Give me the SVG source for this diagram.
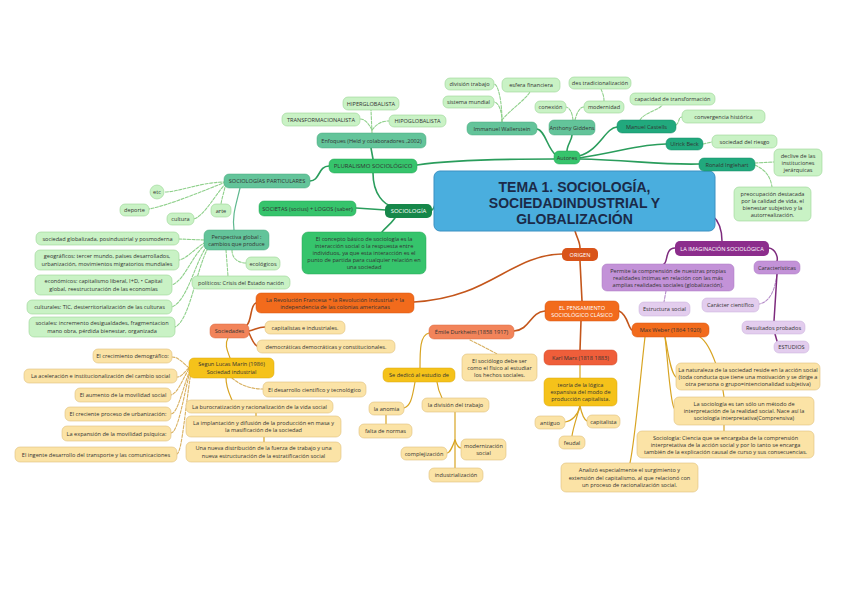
<svg xmlns="http://www.w3.org/2000/svg" width="848" height="599" viewBox="0 0 848 599">
<style>
text{font-family:"Open Sans","Liberation Sans",sans-serif;font-size:5.6px;fill:#333;text-anchor:middle}
.t{font-family:"Liberation Sans",Arial,sans-serif;font-size:14px;font-weight:bold;fill:#1b2a48}
.w{fill:#fff}
.b{font-size:6px}
.lg{fill:#c9f2c5;stroke:#9ad596;stroke-width:.6}
.tm{fill:#63c49a;stroke:#4aa87f;stroke-width:.5}
.dt{fill:#21a97d;stroke:#178b66;stroke-width:.5}
.g{fill:#36c46c;stroke:#26a457;stroke-width:.5}
.dg{fill:#16874a}
.ly{fill:#fbe3a6;stroke:#dfc07c;stroke-width:.6}
.y{fill:#f5c21a;stroke:#d9a60d;stroke-width:.5}
.o{fill:#f26b1c;stroke:#d65510;stroke-width:.5}
.od{fill:#d9541a}
.os{fill:#f2845a;stroke:#d96a40;stroke-width:.5}
.or{fill:#ef5e3a;stroke:#d24a28;stroke-width:.5}
.p{fill:#8c2d8c}
.pm{fill:#c392d8;stroke:#a877c0;stroke-width:.5}
.pl{fill:#e3cdee;stroke:#c7aedb;stroke-width:.5}
.ttl{fill:#4aaede;stroke:#3a90c2;stroke-width:1}
#edges path{fill:none;stroke-linecap:round}
.eg{stroke:#2a9d5c;stroke-width:1.6}
.el{stroke:#8fd08b;stroke-width:1.1;stroke-dasharray:3 1.5}
.et{stroke:#5fb88f;stroke-width:1.2}
.ep{stroke:#7d2b7d;stroke-width:1.5}
.epd{stroke:#b48bc8;stroke-width:1.1;stroke-dasharray:3 1.5}
.eo{stroke:#c4561b;stroke-width:1.6}
.ey{stroke:#d8a422;stroke-width:1.2}
.eyd{stroke:#d8b060;stroke-width:1.1;stroke-dasharray:3 1.5}
</style>
<rect width="848" height="599" fill="#fff"/>
<g id="edges">
<path class="eg" d="M554,159 C500,159 450,160 417,165"/>
<path class="eg" d="M556,155 C548,150 545,130 537,129"/>
<path class="eg" d="M567,151 C567,145 572,140 572,135"/>
<path class="eg" d="M579,156 C600,150 605,128 617,127"/>
<path class="eg" d="M579,158 C620,152 640,144 666,144"/>
<path class="eg" d="M579,159 C630,160 660,165 699,164"/>
<path class="eg" d="M371,148 L373,159"/>
<path class="eg" d="M329,166 C318,166 320,181 310,181"/>
<path class="eg" d="M373,173 C373,195 385,205 392,206"/>
<path class="eg" d="M386,210 L356,208"/>
<path class="eg" d="M395,218 C390,225 385,228 382,232"/>
<path class="eg" d="M432,210 C435,208 434,205 436,203"/>
<path class="el" d="M372,133 L371,110"/>
<path class="el" d="M372,130 C368,122 364,119 360,119"/>
<path class="el" d="M372,130 C378,122 384,121 389,121"/>
<path class="el" d="M502,122 C502,100 498,84 494,84"/>
<path class="el" d="M502,122 C502,110 498,102 494,102"/>
<path class="el" d="M502,120 C510,110 525,100 530,92"/>
<path class="el" d="M573,120 C572,112 570,108 566,107"/>
<path class="el" d="M575,120 C577,112 580,107 584,107"/>
<path class="el" d="M604,101 C604,95 602,92 601,89"/>
<path class="el" d="M640,120 C645,112 660,110 662,105"/>
<path class="el" d="M676,125 C680,122 678,117 682,117"/>
<path class="el" d="M703,144 L712,142"/>
<path class="el" d="M755,163 L774,162"/>
<path class="el" d="M755,165 C765,170 770,175 772,187"/>
<path class="el" d="M226,182 C200,182 180,192 164,192"/>
<path class="el" d="M226,182 C205,190 170,205 149,209"/>
<path class="el" d="M226,183 C215,195 205,215 194,219"/>
<path class="el" d="M226,183 C224,192 222,198 221,204"/>
<path class="et" d="M240,188 C236,205 232,215 234,230"/>
<path class="el" d="M204,240 L179,239"/>
<path class="el" d="M206,242 C195,248 188,258 179,260"/>
<path class="el" d="M206,244 C192,255 185,280 172,285"/>
<path class="el" d="M207,246 C195,262 188,300 172,307"/>
<path class="el" d="M208,248 C196,270 190,320 175,327"/>
<path class="el" d="M232,250 C232,260 240,263 246,263"/>
<path class="el" d="M226,250 L228,276"/>
<path class="ep" d="M712,215 C720,222 722,232 722,241"/>
<path class="ep" d="M675,248 C665,248 668,262 664,264"/>
<path class="ep" d="M769,248 C776,249 778,258 777,261"/>
<path class="epd" d="M666,291 L664,302"/>
<path class="epd" d="M777,274 C775,290 770,302 759,304"/>
<path class="ep" d="M777,274 L774,321"/>
<path class="ep" d="M775,334 L777,341"/>
<path class="eo" d="M575,231 C577,238 580,242 580,248"/>
<path class="eo" d="M562,254 C510,255 490,298 414,302"/>
<path class="eo" d="M580,261 L582,301"/>
<path class="eo" d="M545,311 C530,312 530,330 514,331"/>
<path class="eo" d="M581,321 L580,350"/>
<path class="eo" d="M619,311 C628,315 628,328 632,330"/>
<path class="eo" d="M256,303 C250,305 252,320 247,325"/>
<path class="eo" d="M249,331 C255,330 258,327 265,327"/>
<path class="eo" d="M249,333 C252,340 254,345 257,346"/>
<path class="ey" d="M228,338 C224,345 228,352 230,358"/>
<path class="ey" d="M429,333 C420,335 420,350 420,368"/>
<path class="eyd" d="M470,340 C480,345 490,350 497,354"/>
<path class="ey" d="M415,382 C412,400 410,406 404,408"/>
<path class="ey" d="M386,415 L386,424"/>
<path class="ey" d="M437,382 C438,390 440,394 442,398"/>
<path class="ey" d="M455,412 L455,468"/>
<path class="ey" d="M455,440 C452,448 450,453 447,453"/>
<path class="ey" d="M455,440 C457,446 459,448 461,448"/>
<path class="ey" d="M580,365 L580,378"/>
<path class="ey" d="M580,406 C578,415 572,421 565,422"/>
<path class="ey" d="M580,406 C582,415 585,420 587,421"/>
<path class="ey" d="M580,406 C576,420 573,428 572,436"/>
<path class="ey" d="M665,337 C668,350 670,372 676,377"/>
<path class="ey" d="M665,337 C668,362 670,400 674,408"/>
<path class="ey" d="M700,337 C712,345 722,380 724,397"/>
<path class="ey" d="M724,425 L724,431"/>
<path class="ey" d="M645,337 C640,380 635,440 630,463"/>
<path class="eyd" d="M189,368 C182,362 178,357 172,357"/>
<path class="eyd" d="M189,368 C184,372 182,377 177,377"/>
<path class="eyd" d="M189,369 C182,380 178,393 171,395"/>
<path class="eyd" d="M190,370 C182,390 178,413 171,414"/>
<path class="eyd" d="M190,371 C183,400 178,432 171,433"/>
<path class="eyd" d="M191,372 C185,410 182,452 177,454"/>
<path class="eyd" d="M232,378 C240,385 250,389 263,389"/>
<path class="ey" d="M226,378 C226,388 230,395 232,400"/>
<path class="ey" d="M256,413 L256,416"/>
<path class="ey" d="M264,437 L264,442"/>
</g>
<g id="title"><rect class="ttl" x="434" y="171" width="281" height="60" rx="6"/><text class="t" x="574.5" y="192">TEMA 1. SOCIOLOGÍA,</text><text class="t" x="574.5" y="208">SOCIEDADINDUSTRIAL Y</text><text class="t" x="574.5" y="224">GLOBALIZACIÓN</text></g>
<g id="autores"><rect class="g" x="554" y="151" width="26" height="13" rx="5"/><text x="567" y="159.5">Autores</text></g>
<g id="pluralismo"><rect class="g" x="329" y="159" width="88" height="14" rx="5"/><text class="b" x="373" y="168">PLURALISMO SOCIOLÓGICO</text></g>
<g id="sociologia"><rect class="dg" x="385" y="204" width="47" height="14" rx="5"/><text class="w b" x="408.5" y="213">SOCIOLOGÍA</text></g>
<g id="societas"><rect class="g" x="259" y="201" width="97" height="15" rx="5"/><text x="307.5" y="210.5">SOCIETAS (socius) + LOGOS (saber)</text></g>
<g id="concepto"><rect class="g" x="302" y="232" width="124" height="42" rx="6"/><text x="364" y="241">El concepto básico de sociología es la</text><text x="364" y="248">interacción social o la respuesta entre</text><text x="364" y="255">individuos, ya que esta interacción es el</text><text x="364" y="262">punto de partida para cualquier relación en</text><text x="364" y="269">una sociedad</text></g>
<g id="enfoques"><rect class="tm" x="317" y="133" width="109" height="15" rx="5"/><text x="371.5" y="142.5">Enfoques (Held y colaboradores ,2002)</text></g>
<g id="hiper"><rect class="lg" x="343" y="97" width="56" height="13" rx="5"/><text x="371" y="105.5">HIPERGLOBALISTA</text></g>
<g id="transf"><rect class="lg" x="282" y="113" width="78" height="13" rx="5"/><text x="321" y="121.5">TRANSFORMACIONALISTA</text></g>
<g id="hipo"><rect class="lg" x="389" y="115" width="57" height="12" rx="5"/><text x="417.5" y="123">HIPOGLOBALISTA</text></g>
<g id="sociopart"><rect class="tm" x="224" y="174" width="86" height="14" rx="5"/><text x="267" y="183">SOCIOLOGÍAS PARTICULARES</text></g>
<g id="etc"><circle class="lg" cx="157" cy="192" r="7"/><text x="157" y="194">etc</text></g>
<g id="deporte"><rect class="lg" x="120" y="204" width="29" height="12" rx="5"/><text x="134.5" y="212">deporte</text></g>
<g id="cultura"><rect class="lg" x="167" y="213" width="27" height="12" rx="5"/><text x="180.5" y="221">cultura</text></g>
<g id="arte"><rect class="lg" x="211" y="204" width="20" height="13" rx="5"/><text x="221" y="212.5">arte</text></g>
<g id="perspectiva"><rect class="tm" x="204" y="230" width="65" height="20" rx="5"/><text x="236.5" y="238.5">Perspectiva global :</text><text x="236.5" y="245.5">cambios que produce</text></g>
<g id="ecologicos"><rect class="lg" x="246" y="257" width="34" height="13" rx="5"/><text x="263" y="265.5">ecológicos</text></g>
<g id="politicos"><rect class="lg" x="192" y="276" width="98" height="13" rx="5"/><text x="241" y="284.5">políticos: Crisis del Estado nación</text></g>
<g id="socglob"><rect class="lg" x="36" y="232" width="143" height="13" rx="5"/><text x="107.5" y="240.5">sociedad globalizada, posindustrial y posmoderna</text></g>
<g id="geog"><rect class="lg" x="35" y="250" width="144" height="20" rx="5"/><text x="107" y="258">geográficos: tercer mundo, países desarrollados,</text><text x="107" y="265.5">urbanización, movimientos migratorios mundiales</text></g>
<g id="econ"><rect class="lg" x="35" y="275" width="137" height="20" rx="5"/><text x="103.5" y="283">económicos: capitalismo liberal, I+D, • Capital</text><text x="103.5" y="290.5">global, reestructuración de las economías</text></g>
<g id="cult"><rect class="lg" x="27" y="300" width="145" height="14" rx="5"/><text x="99.5" y="309">culturales: TIC, desterritorialización de las culturas</text></g>
<g id="soc"><rect class="lg" x="29" y="317" width="146" height="20" rx="5"/><text x="102" y="325">sociales: incremento desigualdades, fragmentacion</text><text x="102" y="332.5">mano obra, pérdida bienestar, organizada</text></g>
<g id="wallerstein"><rect class="tm" x="467" y="122" width="70" height="13" rx="5"/><text x="502" y="130.5">Immanuel Wallerstein</text></g>
<g id="division"><rect class="lg" x="445" y="78" width="49" height="12" rx="5"/><text x="469.5" y="86">división trabajo</text></g>
<g id="sistema"><rect class="lg" x="443" y="96" width="51" height="12" rx="5"/><text x="468.5" y="104">sistema mundial</text></g>
<g id="esfera"><rect class="lg" x="502" y="78" width="58" height="14" rx="5"/><text x="531" y="87">esfera financiera</text></g>
<g id="giddens"><rect class="tm" x="549" y="120" width="46" height="15" rx="5"/><text x="572" y="129.5">Anthony Giddens</text></g>
<g id="conexion"><rect class="lg" x="535" y="101" width="31" height="12" rx="5"/><text x="550.5" y="109">conexión</text></g>
<g id="modernidad"><rect class="lg" x="584" y="101" width="40" height="12" rx="5"/><text x="604" y="109">modernidad</text></g>
<g id="destrad"><rect class="lg" x="569" y="77" width="62" height="12" rx="5"/><text x="600" y="85">des tradicionalización</text></g>
<g id="castells"><rect class="dt" x="617" y="120" width="59" height="13" rx="5"/><text x="646.5" y="128.5">Manuel Castells</text></g>
<g id="capacidad"><rect class="lg" x="630" y="93" width="85" height="12" rx="5"/><text x="672.5" y="101">capacidad de transformación</text></g>
<g id="convergencia"><rect class="lg" x="682" y="110" width="83" height="13" rx="5"/><text x="723.5" y="118.5">convergencia histórica</text></g>
<g id="beck"><rect class="dt" x="666" y="138" width="37" height="12" rx="5"/><text x="684.5" y="146">Ulrick Beck</text></g>
<g id="riesgo"><rect class="lg" x="712" y="135" width="65" height="13" rx="5"/><text x="744.5" y="143.5">sociedad del riesgo</text></g>
<g id="inglehart"><rect class="dt" x="699" y="158" width="56" height="13" rx="5"/><text x="727" y="166.5">Ronald Inglehart</text></g>
<g id="declive"><rect class="lg" x="774" y="149" width="48" height="27" rx="5"/><text x="798" y="157.5">declive de las</text><text x="798" y="164.5">instituciones</text><text x="798" y="171.5">jerárquicas</text></g>
<g id="preocupacion"><rect class="lg" x="734" y="187" width="77" height="34" rx="5"/><text x="772.5" y="195.5">preocupación destacada</text><text x="772.5" y="202.5">por la calidad de vida, el</text><text x="772.5" y="209.5">bienestar subjetivo y la</text><text x="772.5" y="216.5">autorrealización.</text></g>
<g id="imaginacion"><rect class="p" x="675" y="241" width="94" height="15" rx="5"/><text class="w" x="722" y="250.5">LA IMAGINACIÓN SOCIOLÓGICA</text></g>
<g id="permite"><rect class="pm" x="602" y="264" width="132" height="27" rx="5"/><text x="668" y="273">Permite la comprensión de nuestras propias</text><text x="668" y="280">realidades íntimas en relación con las más</text><text x="668" y="287">amplias realidades sociales (globalización).</text></g>
<g id="caracteristicas"><rect class="pm" x="754" y="261" width="46" height="13" rx="5"/><text x="777" y="269.5">Características</text></g>
<g id="estructura"><rect class="pl" x="639" y="302" width="51" height="14" rx="5"/><text x="664.5" y="311">Estructura social</text></g>
<g id="caracter"><rect class="pl" x="702" y="298" width="57" height="14" rx="5"/><text x="730.5" y="307">Carácter científico</text></g>
<g id="resultados"><rect class="pl" x="742" y="321" width="63" height="13" rx="5"/><text x="773.5" y="329.5">Resultados probados</text></g>
<g id="estudios"><rect class="pl" x="774" y="341" width="35" height="12" rx="5"/><text x="791.5" y="349">ESTUDIOS</text></g>
<g id="origen"><rect class="od" x="562" y="248" width="36" height="13" rx="5"/><text class="w" x="580" y="256.5">ORIGEN</text></g>
<g id="pensamiento"><rect class="o" x="545" y="301" width="74" height="20" rx="5"/><text class="w" x="582" y="309.5">EL PENSAMIENTO</text><text class="w" x="582" y="316.5">SOCIOLÓGICO CLÁSICO</text></g>
<g id="revolucion"><rect class="o" x="256" y="293" width="158" height="20" rx="5"/><text x="335" y="301.5">La Revolución Francesa + la Revolución Industrial + la</text><text x="335" y="309">independencia de las colonias americanas</text></g>
<g id="sociedades"><rect class="os" x="210" y="324" width="39" height="14" rx="5"/><text x="229.5" y="333">Sociedades</text></g>
<g id="capitalistas"><rect class="ly" x="265" y="321" width="80" height="13" rx="5"/><text x="305" y="329.5">capitalistas e industriales.</text></g>
<g id="democraticas"><rect class="ly" x="257" y="340" width="138" height="13" rx="5"/><text x="326" y="348.5">democráticas democráticas y constitucionales.</text></g>
<g id="durkheim"><rect class="os" x="429" y="325" width="85" height="14" rx="5"/><text x="471.5" y="334">Émile Durkheim (1858 1917)</text></g>
<g id="marx"><rect class="or" x="544" y="350" width="73" height="15" rx="5"/><text x="580.5" y="359.5">Karl Marx (1818 1883)</text></g>
<g id="weber"><rect class="o" x="632" y="323" width="77" height="14" rx="5"/><text x="670.5" y="332">Max Weber (1864 1920)</text></g>
<g id="lucas"><rect class="y" x="189" y="358" width="85" height="20" rx="5"/><text x="231.5" y="366">Segun Lucas Marín (1986)</text><text x="231.5" y="373.5">Sociedad industrial</text></g>
<g id="sededico"><rect class="y" x="383" y="368" width="72" height="14" rx="5"/><text x="419" y="377">Se dedicó al estudio de</text></g>
<g id="sociologo"><rect class="ly" x="462" y="354" width="75" height="27" rx="5"/><text x="499.5" y="362.5">El sociólogo debe ser</text><text x="499.5" y="369.5">como el físico al estudiar</text><text x="499.5" y="376.5">los hechos sociales.</text></g>
<g id="teoria"><rect class="y" x="544" y="378" width="73" height="28" rx="5"/><text x="580.5" y="387">teoría de la lógica</text><text x="580.5" y="394">expansiva del modo de</text><text x="580.5" y="401">producción capitalista.</text></g>
<g id="antiguo"><rect class="ly" x="535" y="416" width="30" height="13" rx="5"/><text x="550" y="424.5">antiguo</text></g>
<g id="capitalista"><rect class="ly" x="587" y="415" width="33" height="13" rx="5"/><text x="603.5" y="423.5">capitalista</text></g>
<g id="feudal"><rect class="ly" x="559" y="436" width="26" height="13" rx="5"/><text x="572" y="444.5">feudal</text></g>
<g id="anomia"><rect class="ly" x="369" y="402" width="35" height="13" rx="5"/><text x="386.5" y="410.5">la anomia</text></g>
<g id="falta"><rect class="ly" x="359" y="424" width="53" height="14" rx="5"/><text x="385.5" y="433">falta de normas</text></g>
<g id="divtrabajo"><rect class="ly" x="422" y="398" width="67" height="14" rx="5"/><text x="455.5" y="407">la división del trabajo</text></g>
<g id="complej"><rect class="ly" x="401" y="447" width="46" height="13" rx="5"/><text x="424" y="455.5">complejización</text></g>
<g id="moderniz"><rect class="ly" x="461" y="439" width="45" height="21" rx="5"/><text x="483.5" y="447.5">modernización</text><text x="483.5" y="455">social</text></g>
<g id="industri"><rect class="ly" x="429" y="468" width="54" height="14" rx="5"/><text x="456" y="477">industrialización</text></g>
<g id="analizo"><rect class="ly" x="561" y="463" width="137" height="29" rx="5"/><text x="629.5" y="472">Analizó especialmente el surgimiento y</text><text x="629.5" y="479.5">extensión del capitalismo, al que relacionó con</text><text x="629.5" y="487">un proceso de racionalización social.</text></g>
<g id="naturaleza"><rect class="ly" x="676" y="363" width="144" height="27" rx="5"/><text x="748" y="372">La naturaleza de la sociedad reside en la acción social</text><text x="748" y="379">(toda conducta que tiene una motivación y se dirige a</text><text x="748" y="386">otra persona o grupo=intencionalidad subjetiva)</text></g>
<g id="lasociologia"><rect class="ly" x="674" y="397" width="140" height="28" rx="5"/><text x="744" y="406">La sociología es tan sólo un método de</text><text x="744" y="413">interpretación de la realidad social. Nace así la</text><text x="744" y="420">sociología interpretativa(Comprensiva)</text></g>
<g id="ciencia"><rect class="ly" x="637" y="431" width="177" height="27" rx="5"/><text x="725.5" y="440">Sociología: Ciencia que se encargaba de la comprensión</text><text x="725.5" y="447">interpretativa de la acción social y por lo tanto se encarga</text><text x="725.5" y="454">también de la explicación causal de curso y sus consecuencias.</text></g>
<g id="crec"><rect class="ly" x="93" y="349" width="79" height="14" rx="5"/><text x="132.5" y="358">El crecimiento demográfico:</text></g>
<g id="acel"><rect class="ly" x="24" y="369" width="153" height="14" rx="5"/><text x="100.5" y="378">La aceleración e institucionalización del cambio social</text></g>
<g id="aum"><rect class="ly" x="75" y="388" width="96" height="14" rx="5"/><text x="123" y="397">El aumento de la movilidad social</text></g>
<g id="creciente"><rect class="ly" x="65" y="407" width="106" height="14" rx="5"/><text x="118" y="416">El creciente proceso de urbanización:</text></g>
<g id="expansion"><rect class="ly" x="62" y="426" width="109" height="15" rx="5"/><text x="116.5" y="435.5">La expansión de la movilidad psíquica:</text></g>
<g id="ingente"><rect class="ly" x="15" y="447" width="162" height="15" rx="5"/><text x="96" y="456.5">El ingente desarrollo del transporte y las comunicaciones</text></g>
<g id="desarrollo"><rect class="ly" x="263" y="382" width="103" height="15" rx="5"/><text x="314.5" y="391.5">El desarrollo científico y tecnológico</text></g>
<g id="buro"><rect class="ly" x="186" y="400" width="147" height="13" rx="5"/><text x="259.5" y="408.5">La burocratización y racionalización de la vida social</text></g>
<g id="implant"><rect class="ly" x="186" y="416" width="155" height="21" rx="5"/><text x="263.5" y="424.5">La implantación y difusión de la producción en masa y</text><text x="263.5" y="432">la masificación de la sociedad</text></g>
<g id="nueva"><rect class="ly" x="186" y="442" width="155" height="20" rx="5"/><text x="263.5" y="450">Una nueva distribución de la fuerza de trabajo y una</text><text x="263.5" y="457.5">nueva estructuración de la estratificación social</text></g>
</svg>
